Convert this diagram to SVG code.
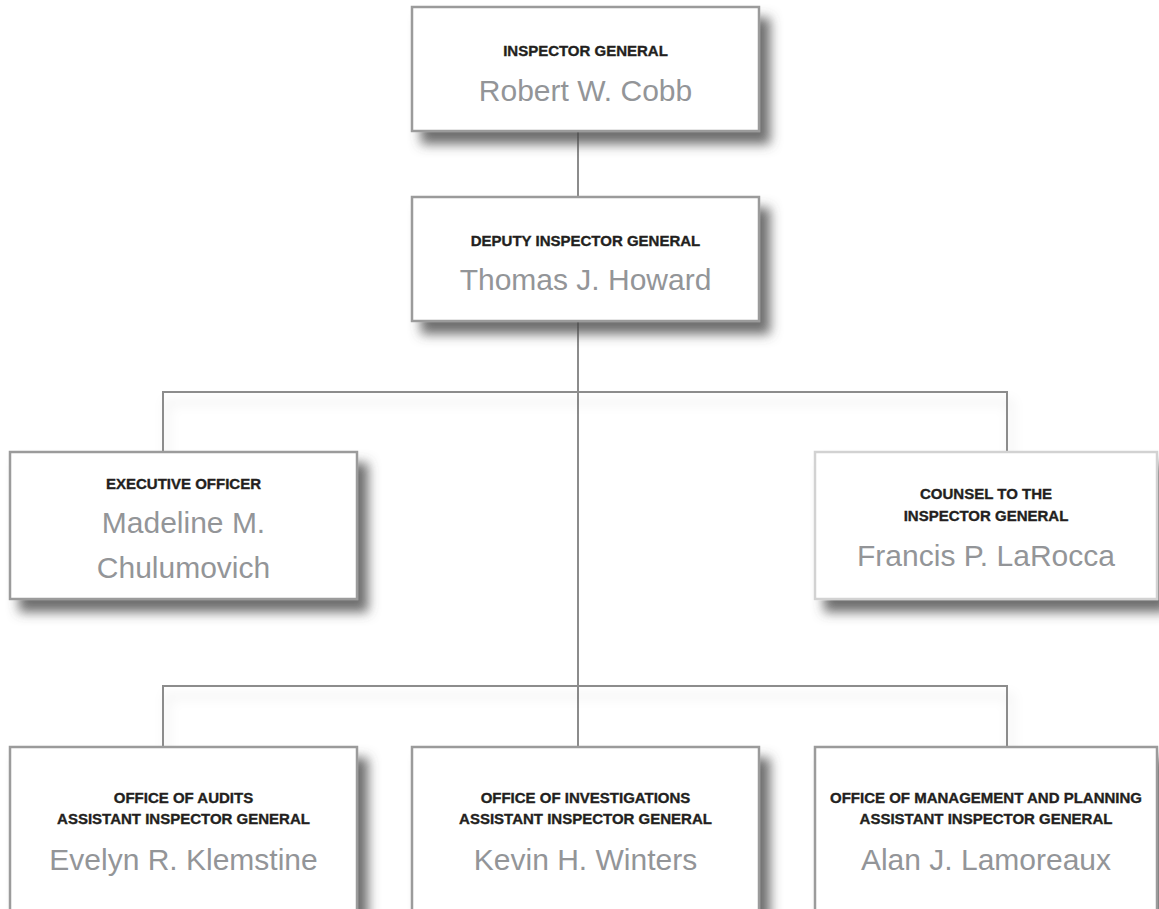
<svg xmlns="http://www.w3.org/2000/svg" width="1159" height="909" viewBox="0 0 1159 909">
  <defs>
    <filter id="boxShadow" x="-10%" y="-10%" width="130%" height="145%">
      <feDropShadow dx="10" dy="12" stdDeviation="6" flood-color="#4a4a4a" flood-opacity="0.8"/>
    </filter>
    <filter id="lineShadow" x="-5%" y="-50%" width="110%" height="300%">
      <feDropShadow dx="4" dy="10" stdDeviation="6" flood-color="#000" flood-opacity="0.14"/>
    </filter>
  </defs>
  <style>
    .box { fill: #ffffff; stroke: #9b9b9b; stroke-width: 2.5; }
    .box.light { stroke: #d2d2d2; }
    .conn { fill: none; stroke: #8c8c8c; stroke-width: 2; }
    .title { font-family: "Liberation Sans", Arial, sans-serif; font-weight: bold; font-size: 15px; fill: #231f20; stroke: #231f20; stroke-width: 0.35; text-anchor: middle; }
    .name { font-family: "Liberation Sans", Arial, sans-serif; font-size: 30px; fill: #939598; text-anchor: middle; }
  </style>
  <rect width="1159" height="909" fill="#ffffff"/>

  <g id="connectors">
    <line class="conn" x1="578" y1="131" x2="578" y2="198"/>
    <line class="conn" x1="578" y1="321" x2="578" y2="748"/>
    <path class="conn" filter="url(#lineShadow)" d="M163,452 V392 H1007 V452"/>
    <path class="conn" filter="url(#lineShadow)" d="M163,747 V686 H1007 V747"/>
  </g>

  <g id="inspector-general">
    <rect class="box" filter="url(#boxShadow)" x="412" y="7" width="347" height="124"/>
    <text class="title" x="585.5" y="56">INSPECTOR GENERAL</text>
    <text class="name" x="585.5" y="101">Robert W. Cobb</text>
  </g>

  <g id="deputy-inspector-general">
    <rect class="box" filter="url(#boxShadow)" x="412" y="197" width="347" height="124"/>
    <text class="title" x="585.5" y="246">DEPUTY INSPECTOR GENERAL</text>
    <text class="name" x="585.5" y="290">Thomas J. Howard</text>
  </g>

  <g id="executive-officer">
    <rect class="box" filter="url(#boxShadow)" x="10" y="452" width="347" height="147"/>
    <text class="title" x="183.5" y="489">EXECUTIVE OFFICER</text>
    <text class="name" x="183.5" y="533">Madeline M.</text>
    <text class="name" x="183.5" y="578">Chulumovich</text>
  </g>

  <g id="counsel">
    <rect class="box light" filter="url(#boxShadow)" x="815" y="452" width="342" height="147"/>
    <text class="title" x="986" y="499">COUNSEL TO THE</text>
    <text class="title" x="986" y="521">INSPECTOR GENERAL</text>
    <text class="name" x="986" y="566">Francis P. LaRocca</text>
  </g>

  <g id="office-of-audits">
    <rect class="box" filter="url(#boxShadow)" x="10" y="747" width="347" height="190"/>
    <text class="title" x="183.5" y="803">OFFICE OF AUDITS</text>
    <text class="title" x="183.5" y="824">ASSISTANT INSPECTOR GENERAL</text>
    <text class="name" x="183.5" y="870">Evelyn R. Klemstine</text>
  </g>

  <g id="office-of-investigations">
    <rect class="box" filter="url(#boxShadow)" x="412" y="747" width="347" height="190"/>
    <text class="title" x="585.5" y="803">OFFICE OF INVESTIGATIONS</text>
    <text class="title" x="585.5" y="824">ASSISTANT INSPECTOR GENERAL</text>
    <text class="name" x="585.5" y="870">Kevin H. Winters</text>
  </g>

  <g id="office-of-management">
    <rect class="box" filter="url(#boxShadow)" x="815" y="747" width="342" height="190"/>
    <text class="title" x="986" y="803">OFFICE OF MANAGEMENT AND PLANNING</text>
    <text class="title" x="986" y="824">ASSISTANT INSPECTOR GENERAL</text>
    <text class="name" x="986" y="870">Alan J. Lamoreaux</text>
  </g>
</svg>
